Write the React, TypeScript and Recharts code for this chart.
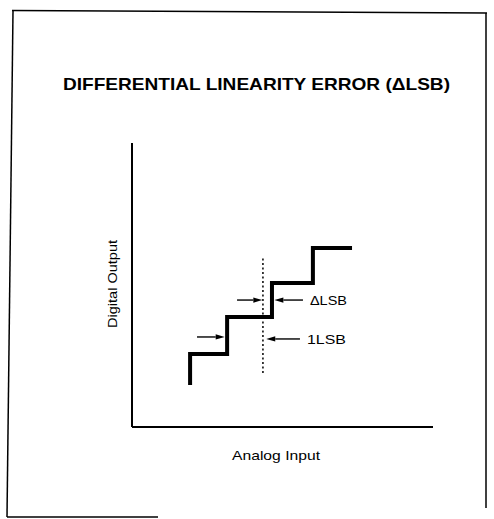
import React from "react";
import { ComposedChart, Line, XAxis, YAxis, ReferenceLine, Label } from "recharts";

// Staircase transfer curve corners (x = analog input, y = digital output), 0..100 scale
const stepX = [19.3, 19.3, 31.6, 31.6, 46.5, 46.5, 60.1, 60.1, 73.1];
const stepY = [14.8, 25.7, 25.7, 38.7, 38.7, 50.7, 50.7, 63.0, 63.0];

// Ideal code edge (dotted)
const dottedX = 43.5;
const dottedY = [19.0, 60.0];

// Dimension arrows: tail x, tip x, y, label
const arrowTail = [21.6, 34.9, 56.8, 55.8];
const arrowTip = [30.8, 43.3, 47.3, 44.6];
const arrowY = [31.7, 44.7, 44.7, 31.0];
const arrowText = ["", "", "\u0394LSB", "1LSB"];
const arrowTextWidth = [0, 0, 37, 39];

const titleText = "DIFFERENTIAL LINEARITY ERROR (\u0394LSB)";
const xLabel = "Analog Input";
const yLabel = "Digital Output";

const data = stepX.map((x, i) => ({ x, y: stepY[i] }));

const FONT = "'Liberation Sans', Arial, Helvetica, sans-serif";

function makeArrow(text: string, tw: number) {
  return (p: any) => {
    const { x1, y1, x2, y2 } = p;
    const dir = x2 > x1 ? 1 : -1;
    const hl = 9;
    const hw = 2.6;
    const base = x2 - dir * hl;
    return (
      <g>
        <line x1={x1} y1={y1} x2={base} y2={y2} stroke="#000" strokeWidth={1.4} />
        <polygon points={`${x2},${y2} ${base},${y2 - hw} ${base},${y2 + hw}`} fill="#000" />
        {text ? (
          <text
            x={x1 + 7}
            y={y1 + 5}
            fontFamily={FONT}
            fontSize={13}
            fill="#000"
            textLength={tw}
            lengthAdjust="spacingAndGlyphs"
          >
            {text}
          </text>
        ) : null}
      </g>
    );
  };
}

export default function App() {
  return (
    <div style={{ position: "absolute", left: 0, top: 0, width: 494, height: 519, background: "#fff" }}>
      <svg width={494} height={519} style={{ position: "absolute", left: 0, top: 0 }}>
        <line x1={13} y1={11} x2={7} y2={517} stroke="#000" strokeWidth={1.5} />
        <line x1={12} y1={10.5} x2={487} y2={13} stroke="#000" strokeWidth={1.5} />
        <line x1={486} y1={13} x2={486} y2={508} stroke="#000" strokeWidth={1.5} />
        <line x1={7} y1={517} x2={158} y2={517} stroke="#000" strokeWidth={1.5} />
        <text
          x={63}
          y={90}
          fontFamily={FONT}
          fontWeight="bold"
          fontSize={16.5}
          fill="#000"
          textLength={387}
          lengthAdjust="spacingAndGlyphs"
        >
          {titleText}
        </text>
      </svg>
      <div style={{ position: "absolute", left: 0, top: 0 }}>
        <ComposedChart
          width={494}
          height={519}
          data={data}
          margin={{ top: 143, right: 61, bottom: 91, left: 131 }}
        >
          <XAxis
            dataKey="x"
            type="number"
            domain={[0, 100]}
            tick={false}
            tickLine={false}
            height={1}
            axisLine={{ stroke: "#000", strokeWidth: 2 }}
          >
            <Label
              content={(props: any) => {
                const vb = props.viewBox || { x: 132, y: 428, width: 301 };
                return (
                  <text
                    x={vb.x + 100}
                    y={vb.y + 33}
                    fontFamily={FONT}
                    fontSize={13}
                    fill="#000"
                    textLength={88}
                    lengthAdjust="spacingAndGlyphs"
                  >
                    {xLabel}
                  </text>
                );
              }}
            />
          </XAxis>
          <YAxis
            type="number"
            domain={[0, 100]}
            tick={false}
            tickLine={false}
            width={1}
            axisLine={{ stroke: "#000", strokeWidth: 2 }}
          >
            <Label
              content={(props: any) => {
                const vb = props.viewBox || { x: 131, y: 143, width: 1, height: 285 };
                const cx = vb.x + (vb.width || 0) - 15;
                const cy = vb.y + vb.height / 2 - 1;
                return (
                  <text
                    x={cx}
                    y={cy}
                    transform={`rotate(-90 ${cx} ${cy})`}
                    textAnchor="middle"
                    fontFamily={FONT}
                    fontSize={13}
                    fill="#000"
                    textLength={88}
                    lengthAdjust="spacingAndGlyphs"
                  >
                    {yLabel}
                  </text>
                );
              }}
            />
          </YAxis>
          <ReferenceLine
            segment={[
              { x: dottedX, y: dottedY[0] },
              { x: dottedX, y: dottedY[1] },
            ]}
            stroke="#000"
            strokeWidth={1.5}
            strokeDasharray="2 2.5"
          />
          {arrowTail.map((t, i) => (
            <ReferenceLine
              key={i}
              segment={[
                { x: t, y: arrowY[i] },
                { x: arrowTip[i], y: arrowY[i] },
              ]}
              stroke="#000"
              shape={makeArrow(arrowText[i], arrowTextWidth[i])}
            />
          ))}
          <Line
            dataKey="y"
            type="linear"
            stroke="#000"
            strokeWidth={4}
            strokeLinejoin="miter"
            dot={false}
            activeDot={false}
            isAnimationActive={false}
          />
        </ComposedChart>
      </div>
    </div>
  );
}
